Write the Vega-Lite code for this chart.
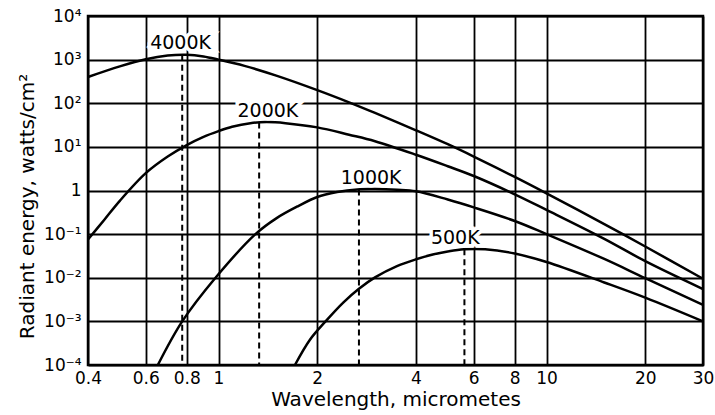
{
  "$schema": "https://vega.github.io/schema/vega-lite/v6.json",
  "width": 615,
  "height": 349,
  "autosize": {"type": "none"},
  "padding": {"left": 88, "top": 16, "right": 12, "bottom": 50},
  "background": "white",
  "config": {
    "font": "DejaVu Sans",
    "view": {"stroke": "black", "strokeWidth": 2.5},
    "axis": {
      "domain": false,
      "ticks": false,
      "grid": true,
      "gridColor": "black",
      "gridOpacity": 1,
      "gridWidth": 1.8,
      "labelColor": "black",
      "labelFont": "DejaVu Sans",
      "labelFontSize": 17,
      "titleFont": "DejaVu Sans",
      "titleFontSize": 20,
      "titleFontWeight": "normal",
      "titleColor": "black",
      "labelOverlap": false,
      "labelFlush": false
    }
  },
  "datasets": {
    "curves": [
      {"T": "4000K", "lam": 0.4, "E": 400},
      {"T": "4000K", "lam": 0.5, "E": 700},
      {"T": "4000K", "lam": 0.6, "E": 1020},
      {"T": "4000K", "lam": 0.7, "E": 1240},
      {"T": "4000K", "lam": 0.8, "E": 1290},
      {"T": "4000K", "lam": 0.9, "E": 1180},
      {"T": "4000K", "lam": 1.0, "E": 1000},
      {"T": "4000K", "lam": 1.2, "E": 720},
      {"T": "4000K", "lam": 1.5, "E": 430},
      {"T": "4000K", "lam": 2.0, "E": 200},
      {"T": "4000K", "lam": 2.5, "E": 105},
      {"T": "4000K", "lam": 3.0, "E": 60},
      {"T": "4000K", "lam": 4.0, "E": 24},
      {"T": "4000K", "lam": 5.0, "E": 11.5},
      {"T": "4000K", "lam": 6.0, "E": 6},
      {"T": "4000K", "lam": 8.0, "E": 2.05},
      {"T": "4000K", "lam": 10.0, "E": 0.86},
      {"T": "4000K", "lam": 15.0, "E": 0.17},
      {"T": "4000K", "lam": 20.0, "E": 0.052},
      {"T": "4000K", "lam": 30.0, "E": 0.0095},
      {"T": "2000K", "lam": 0.4, "E": 0.075},
      {"T": "2000K", "lam": 0.45, "E": 0.22},
      {"T": "2000K", "lam": 0.5, "E": 0.58},
      {"T": "2000K", "lam": 0.6, "E": 2.5},
      {"T": "2000K", "lam": 0.7, "E": 6},
      {"T": "2000K", "lam": 0.8, "E": 11},
      {"T": "2000K", "lam": 0.9, "E": 17},
      {"T": "2000K", "lam": 1.0, "E": 23},
      {"T": "2000K", "lam": 1.1, "E": 29},
      {"T": "2000K", "lam": 1.25, "E": 35},
      {"T": "2000K", "lam": 1.4, "E": 37},
      {"T": "2000K", "lam": 1.6, "E": 35},
      {"T": "2000K", "lam": 2.0, "E": 28},
      {"T": "2000K", "lam": 2.5, "E": 19},
      {"T": "2000K", "lam": 3.0, "E": 13.5},
      {"T": "2000K", "lam": 4.0, "E": 6.6},
      {"T": "2000K", "lam": 5.0, "E": 3.6},
      {"T": "2000K", "lam": 6.0, "E": 2.15},
      {"T": "2000K", "lam": 8.0, "E": 0.82},
      {"T": "2000K", "lam": 10.0, "E": 0.36},
      {"T": "2000K", "lam": 15.0, "E": 0.078},
      {"T": "2000K", "lam": 20.0, "E": 0.024},
      {"T": "2000K", "lam": 30.0, "E": 0.0055},
      {"T": "1000K", "lam": 0.653, "E": 0.0001},
      {"T": "1000K", "lam": 0.775, "E": 0.001},
      {"T": "1000K", "lam": 0.979, "E": 0.01},
      {"T": "1000K", "lam": 1.296, "E": 0.1},
      {"T": "1000K", "lam": 1.5, "E": 0.23},
      {"T": "1000K", "lam": 1.75, "E": 0.44},
      {"T": "1000K", "lam": 2.0, "E": 0.71},
      {"T": "1000K", "lam": 2.3, "E": 0.92},
      {"T": "1000K", "lam": 2.65, "E": 1.06},
      {"T": "1000K", "lam": 3.0, "E": 1.08},
      {"T": "1000K", "lam": 3.5, "E": 1.04},
      {"T": "1000K", "lam": 4.0, "E": 0.96},
      {"T": "1000K", "lam": 5.0, "E": 0.62},
      {"T": "1000K", "lam": 6.0, "E": 0.41},
      {"T": "1000K", "lam": 8.0, "E": 0.2},
      {"T": "1000K", "lam": 10.0, "E": 0.1},
      {"T": "1000K", "lam": 15.0, "E": 0.027},
      {"T": "1000K", "lam": 20.0, "E": 0.0098},
      {"T": "1000K", "lam": 30.0, "E": 0.0024},
      {"T": "500K", "lam": 1.71, "E": 0.0001},
      {"T": "500K", "lam": 1.9, "E": 0.00038},
      {"T": "500K", "lam": 2.12, "E": 0.001},
      {"T": "500K", "lam": 2.4, "E": 0.0027},
      {"T": "500K", "lam": 2.68, "E": 0.0056},
      {"T": "500K", "lam": 3.0, "E": 0.0102},
      {"T": "500K", "lam": 3.5, "E": 0.0185},
      {"T": "500K", "lam": 4.0, "E": 0.0265},
      {"T": "500K", "lam": 4.5, "E": 0.034},
      {"T": "500K", "lam": 5.0, "E": 0.04},
      {"T": "500K", "lam": 5.6, "E": 0.045},
      {"T": "500K", "lam": 6.5, "E": 0.045},
      {"T": "500K", "lam": 8.0, "E": 0.036},
      {"T": "500K", "lam": 10.0, "E": 0.023},
      {"T": "500K", "lam": 15.0, "E": 0.0078},
      {"T": "500K", "lam": 20.0, "E": 0.0035},
      {"T": "500K", "lam": 30.0, "E": 0.001}
    ],
    "peaks": [
      {"T": "4000K", "lam": 0.775, "E": 1290},
      {"T": "2000K", "lam": 1.33, "E": 36},
      {"T": "1000K", "lam": 2.68, "E": 1.06},
      {"T": "500K", "lam": 5.62, "E": 0.045}
    ],
    "labels": [
      {"T": "4000K", "lam": 0.766, "E": 2450},
      {"T": "2000K", "lam": 1.414, "E": 65},
      {"T": "1000K", "lam": 2.92, "E": 1.95},
      {"T": "500K", "lam": 5.27, "E": 0.08}
    ]
  },
  "encoding": {
    "x": {
      "field": "lam",
      "type": "quantitative",
      "scale": {"type": "log", "domain": [0.4, 30], "nice": false},
      "axis": {
        "values": [0.4, 0.6, 0.8, 1, 2, 4, 6, 8, 10, 20, 30],
        "format": "~g",
        "labelPadding": 5,
        "title": "Wavelength, micrometes",
        "titlePadding": 3
      }
    },
    "y": {
      "field": "E",
      "type": "quantitative",
      "scale": {"type": "log", "domain": [0.0001, 10000], "nice": false},
      "axis": {
        "values": [0.0001, 0.001, 0.01, 0.1, 1, 10, 100, 1000, 10000],
        "labelExpr": "['10⁻⁴','10⁻³','10⁻²','10⁻¹','1','10¹','10²','10³','10⁴'][round(log(datum.value)/LN10)+4]",
        "labelPadding": 7,
        "title": "Radiant energy, watts/cm²",
        "titlePadding": 6,
        "titleY": 190
      }
    }
  },
  "layer": [
    {
      "data": {"name": "curves"},
      "mark": {"type": "line", "color": "black", "strokeWidth": 2.5, "interpolate": "catmull-rom"},
      "encoding": {"detail": {"field": "T"}}
    },
    {
      "data": {"name": "peaks"},
      "mark": {"type": "rule", "color": "black", "strokeWidth": 2, "strokeDash": [6, 4]},
      "encoding": {"y2": {"datum": 0.0001}}
    },
    {
      "data": {"name": "labels"},
      "mark": {"type": "text", "fontSize": 19, "font": "DejaVu Sans", "color": "white", "stroke": "white", "strokeWidth": 7, "align": "center", "baseline": "middle"},
      "encoding": {"text": {"field": "T"}}
    },
    {
      "data": {"name": "labels"},
      "mark": {"type": "text", "fontSize": 19, "font": "DejaVu Sans", "color": "black", "align": "center", "baseline": "middle"},
      "encoding": {"text": {"field": "T"}}
    }
  ]
}
